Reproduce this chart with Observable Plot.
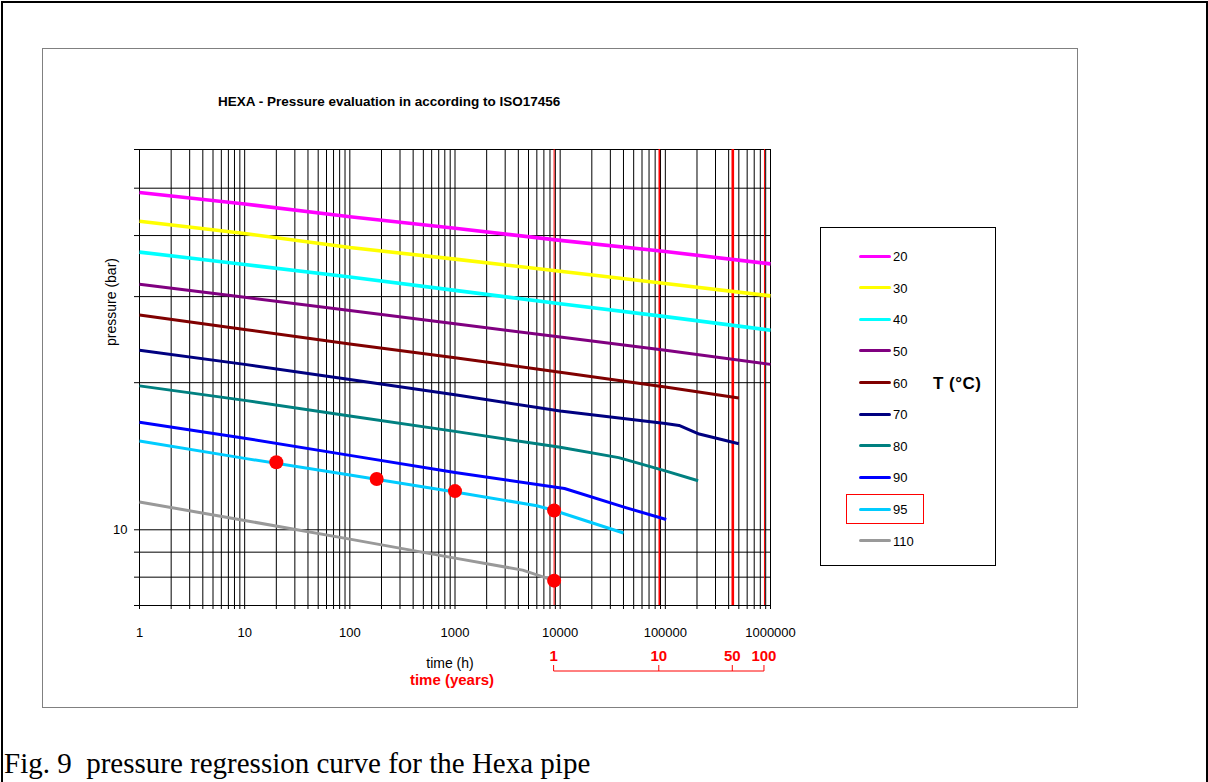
<!DOCTYPE html>
<html>
<head>
<meta charset="utf-8">
<script src="https://cdn.jsdelivr.net/npm/d3@7"></script>
<script src="https://cdn.jsdelivr.net/npm/@observablehq/plot@0.6"></script>
<style>
  html,body{margin:0;padding:0;background:#fff;}
  #page{position:relative;width:1208px;height:782px;overflow:hidden;font-family:"Liberation Sans",Arial,sans-serif;color:#000;}
  #chart{position:absolute;left:0;top:0;width:1208px;height:782px;}
  .abs{position:absolute;white-space:nowrap;line-height:1;}
</style>
</head>
<body>
<div id="page">
  <div id="chart"></div>
</div>
<script>
// ---------------- data ----------------
const temps  = [20, 30, 40, 50, 60, 70, 80, 90, 95, 110];
const colors = ["#ff00ff", "#ffff00", "#00ffff", "#800080", "#800000", "#000080", "#008080", "#0000ff", "#00ccff", "#999999"];

const decades = [1, 10, 100, 1000, 10000, 100000, 1000000];
const p20  = [49.0, 46.4, 43.7, 41.4, 39.1, 37.1, 35.0];
const p30  = [42.8, 40.4, 37.8, 35.8, 33.8, 31.9, 30.1];
const p40  = [37.0, 34.9, 32.9, 30.9, 29.0, 27.3, 25.6];
const p50  = [31.8, 29.9, 28.1, 26.4, 24.8, 23.3, 21.8];
const h60  = [1, 10, 100, 1000, 10000, 100000, 500000];
const p60  = [27.5, 25.7, 24.0, 22.5, 21.0, 19.6, 18.6];
const h70  = [1, 10, 100, 1000, 10000, 100000, 135000, 210000, 500000];
const p70  = [23.3, 21.8, 20.3, 18.9, 17.5, 16.5, 16.35, 15.7, 15.0];
const h80  = [1, 10, 100, 1000, 10000, 36000, 100000, 205000];
const p80  = [19.7, 18.4, 17.1, 15.9, 14.75, 14.05, 13.2, 12.6];
const h90  = [1, 10, 100, 1000, 11000, 42000, 102000];
const p90  = [16.6, 15.4, 14.2, 13.1, 12.15, 11.1, 10.5];
const h95  = [1, 10, 100, 1000, 6000, 8760, 40000];
const p95  = [15.2, 14.0, 12.95, 11.95, 11.2, 10.95, 9.85];
const h110 = [1, 10, 100, 1000, 4400, 8760];
const p110 = [11.4, 10.45, 9.57, 8.75, 8.27, 7.87];

// red measured points
const markHours = [20, 180, 1000, 8760, 8760];
const markP     = [13.75, 12.7, 12.0, 10.95, 7.87];

// axes
const xLabels = [1, 10, 100, 1000, 10000, 100000, 1000000];
const yTicks  = [7, 8, 9, 10, 20, 30, 40, 50, 60];
const years = [1, 10, 50, 100];
const hoursPerYear = 8760;

// ---------------- build tables ----------------
const series = [
  [20, decades, p20], [30, decades, p30], [40, decades, p40], [50, decades, p50],
  [60, h60, p60], [70, h70, p70], [80, h80, p80], [90, h90, p90], [95, h95, p95], [110, h110, p110]
];
const rows = series.flatMap(([T, hs, ps]) => hs.map((h, i) => ({T, h, p: ps[i]})));
const marks = markHours.map((h, i) => ({h, p: markP[i]}));
const xGrid = d3.range(0, 6).flatMap(k => d3.range(1, 10).map(m => m * Math.pow(10, k))).concat([1e6]);
const yearHours = years.map(y => y * hoursPerYear);

const FONT = "'Liberation Sans', Arial, sans-serif";

const chart = Plot.plot({
  width: 1208, height: 782,
  marginLeft: 139, marginRight: 438, marginTop: 149, marginBottom: 177,
  style: {background: "transparent", fontFamily: FONT, fontSize: "13px", color: "#000", overflow: "visible"},
  x: {type: "log", domain: [1, 1e6]},
  y: {type: "log", domain: [7, 60]},
  color: {domain: temps, range: colors},
  marks: [
    Plot.ruleX(xGrid, {stroke: "#000", strokeWidth: 1}),
    Plot.ruleY(yTicks, {stroke: "#000", strokeWidth: 1}),
    Plot.ruleX([yearHours[0], yearHours[3]], {stroke: "#ff0000", strokeWidth: 1}),
    Plot.ruleX([yearHours[1]], {stroke: "#ff0000", strokeWidth: 1.6}),
    Plot.ruleX([yearHours[2]], {stroke: "#ff0000", strokeWidth: 2.6}),
    Plot.line(rows.filter(d => d.T <= 40), {x: "h", y: "p", z: "T", stroke: "T", strokeWidth: 3.6, strokeLinecap: "butt", strokeLinejoin: "round"}),
    Plot.line(rows.filter(d => d.T > 40), {x: "h", y: "p", z: "T", stroke: "T", strokeWidth: 3, strokeLinecap: "butt", strokeLinejoin: "round"}),
    Plot.dot(marks, {x: "h", y: "p", r: 7, fill: "#ff0000", stroke: "none"}),
    Plot.axisX(xGrid, {tickSize: 4, tickFormat: () => "", label: null}),
    Plot.axisX(xLabels, {tickSize: 0, tickPadding: 22, tickFormat: d => String(d), label: null, fontSize: 13}),
    Plot.axisY(yTicks, {tickSize: 5, tickPadding: 7, tickFormat: d => d === 10 ? "10" : "", label: null, fontSize: 13})
  ]
});
document.getElementById("chart").appendChild(chart);

// years axis (red), positioned with the plot's x scale
const sx = chart.scale("x");
const svg = d3.select(chart);
const yg = svg.append("g");
const bracketY = 671;
yg.append("line")
  .attr("x1", sx.apply(yearHours[0])).attr("x2", sx.apply(yearHours[yearHours.length - 1]))
  .attr("y1", bracketY).attr("y2", bracketY)
  .attr("stroke", "#ff0000").attr("stroke-width", 1);
years.forEach((yr, i) => {
  const px = sx.apply(yearHours[i]);
  yg.append("line").attr("x1", px).attr("x2", px).attr("y1", bracketY).attr("y2", bracketY - 6)
    .attr("stroke", "#ff0000").attr("stroke-width", 1);
  yg.append("text").attr("x", px).attr("y", 656).attr("dy", "0.35em")
    .attr("text-anchor", "middle").attr("fill", "#ff0000")
    .attr("font-weight", "bold").attr("font-size", 15).attr("font-family", FONT)
    .text(String(yr));
});

// ---------------- HTML decorations ----------------
const page = document.getElementById("page");
function box(x, y, w, h, css) {
  const d = document.createElement("div");
  d.className = "abs";
  d.style.cssText += `left:${x}px;top:${y}px;width:${w}px;height:${h}px;` + css;
  page.appendChild(d);
  return d;
}
function label(txt, x, y, css, anchor) {
  const d = document.createElement("div");
  d.className = "abs";
  d.textContent = txt;
  const tx = anchor === "middle" ? "-50%" : anchor === "end" ? "-100%" : "0";
  d.style.cssText += `left:${x}px;top:${y}px;transform:translate(${tx},-50%);` + css;
  page.appendChild(d);
  return d;
}

// outer frame and chart box
box(1, 1, 1203, 790, "border-left:2px solid #000;border-top:2px solid #000;border-right:2px solid #000;");
box(42, 48, 1034, 658, "border:1px solid #808080;");

// title & axis titles
label("HEXA - Pressure evaluation in according to ISO17456", 218, 102, "font-weight:bold;font-size:13.5px;");
label("time (h)", 450, 663, "font-size:14px;", "middle");
label("time (years)", 452, 679, "font-size:15px;font-weight:bold;color:#ff0000;", "middle");
const yl = label("pressure (bar)", 111, 302, "font-size:14px;", "middle");
yl.style.transform = "translate(-50%,-50%) rotate(-90deg)";

// legend
box(820, 227, 174, 337, "border:1px solid #000;");
temps.forEach((T, i) => {
  const cy = 256 + i * 31.63;
  box(859, cy - 1.5, 32, 3, `background:${colors[i]};border-radius:1.5px;`);
  label(String(T), 893, cy, "font-size:13px;");
});
box(846, 494, 76, 28, "border:1px solid #ff0000;");
label("T (°C)", 933, 383, "font-size:17px;font-weight:bold;letter-spacing:0.5px;");

// caption
label("Fig. 9\u00a0 pressure regression curve for the Hexa pipe", 4, 763,
  "font-family:'Liberation Serif','Times New Roman',serif;font-size:29px;");
</script>
</body>
</html>
